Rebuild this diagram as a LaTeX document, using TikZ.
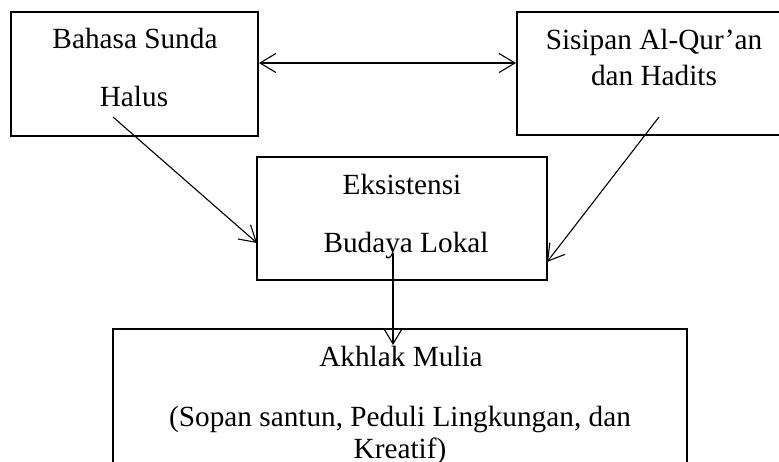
\documentclass[tikz,border=0pt]{standalone}
\usepackage{fontspec}
\setmainfont{Liberation Serif}
\usetikzlibrary{arrows.meta,fit}

\tikzset{
    kotak/.style = {draw, black, line width=0.8pt, inner sep=0pt},
    teks/.style = {anchor=base, inner sep=0pt, font=\fontsize{12}{14}\selectfont},
    panah/.style = {-{Straight Barb[length=6.5pt,width=7.8pt]}, line width=0.45pt},
    panahdua/.style = {{Straight Barb[length=6.5pt,width=7.8pt]}-{Straight Barb[length=6.5pt,width=7.8pt]}, line width=0.45pt}
}

\begin{document}
\begin{tikzpicture}[x=0.41pt, y=-0.41pt]
                \useasboundingbox (0,0) rectangle (779,462);
                \clip (0,0) rectangle (779,462);
                \node[kotak, fit={(11,12) (258,136)}] (sunda) {};
                \node[kotak, fit={(517,12) (800,135)}] (sisipan) {};
                \node[kotak, fit={(257,157) (547,280)}] (budaya) {};
                \node[kotak, fit={(113,329) (687,500)}] (akhlak) {};
                \node[teks] (sunda1) at (135,49) {Bahasa Sunda};
                \node[teks] (sunda2) at (134,107) {Halus};
                \node[teks] (sisipan1) at (654,50) {Sisipan Al-Qur’an};
                \node[teks] (sisipan2) at (654,86) {dan Hadits};
                \node[teks] (budaya1) at (402,195) {Eksistensi};
                \node[teks] (budaya2) at (406,253) {Budaya Lokal};
                \node[teks] (akhlak1) at (401,367) {Akhlak Mulia};
                \node[teks] (akhlak2) at (400,427) {(Sopan santun, Peduli Lingkungan, dan};
                \node[teks] (akhlak3) at (400,459) {Kreatif)};
                \coordinate (garisAtas) at (0,63);
                \coordinate (sundaEkor) at (113,117);
                \coordinate (sundaUjung) at (257,243);
                \coordinate (sisipanEkor) at (659,117);
                \coordinate (sisipanUjung) at (547,262);
                \coordinate (budayaEkor) at (393,253);
                \coordinate (akhlakUjung) at (393,345);
                \draw[panahdua] (sunda.east |- garisAtas) -- (sisipan.west |- garisAtas);
                \draw[panah] (sundaEkor) -- (sundaUjung);
                \draw[panah] (sisipanEkor) -- (sisipanUjung);
                \draw[panah] (budayaEkor) -- (akhlakUjung);

            \end{tikzpicture}
\end{document}
